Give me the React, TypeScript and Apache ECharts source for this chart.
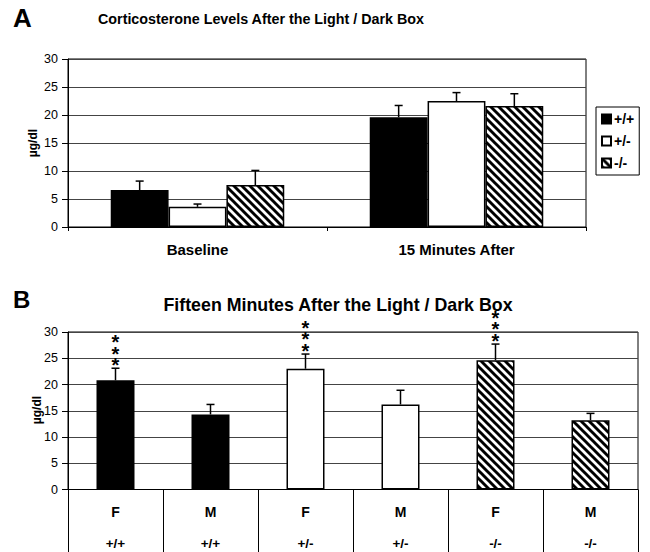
import React, { useEffect, useRef } from 'react';
import * as echarts from 'echarts';

// Panel A: corticosterone by genotype, baseline vs 15 minutes after the light/dark box
const groupsA = ['Baseline', '15 Minutes After'];
const genotypes = ['+/+', '+/-', '-/-'];
const meanWtA = [6.6, 19.6];
const semWtA = [1.6, 2.1];
const meanHetA = [3.6, 22.5];
const semHetA = [0.5, 1.5];
const meanKoA = [7.5, 21.6];
const semKoA = [2.6, 2.2];

// Panel B: fifteen minutes after, split by sex and genotype
const sexB = ['F', 'M', 'F', 'M', 'F', 'M'];
const genotypeB = ['+/+', '+/+', '+/-', '+/-', '-/-', '-/-'];
const meanB = [20.8, 14.3, 23.0, 16.2, 24.6, 13.2];
const semB = [2.3, 1.9, 2.8, 2.7, 3.1, 1.3];
const starsB = ['***', '', '***', '', '***', ''];

const yMin = 0;
const yMax = 30;
const yStep = 5;

const FONT = '"Liberation Sans", Arial, Helvetica, sans-serif';

function makeHatch(): HTMLCanvasElement {
  const size = 8;
  const c = document.createElement('canvas');
  c.width = size;
  c.height = size;
  const ctx = c.getContext('2d')!;
  ctx.fillStyle = '#fff';
  ctx.fillRect(0, 0, size, size);
  ctx.strokeStyle = '#000';
  ctx.lineWidth = 2.9;
  ctx.beginPath();
  for (let k = -1; k <= 1; k++) {
    ctx.moveTo(-2, -2 + k * size);
    ctx.lineTo(size + 2, size + 2 + k * size);
  }
  ctx.stroke();
  return c;
}

function buildOption(): any {
  const hatch = { image: makeHatch(), repeat: 'repeat' };
  const fills: Record<string, any> = { '+/+': '#000', '+/-': '#fff', '-/-': hatch };

  const meansA = [meanWtA, meanHetA, meanKoA];
  const semsA = [semWtA, semHetA, semKoA];
  const catGapA = 0.33;

  const errDataA: number[][] = [];
  meansA.forEach((m, g) =>
    m.forEach((v, c) => errDataA.push([c, g, v, v + semsA[g][c]]))
  );
  const errDataB = meanB.map((v, i) => [i, 0, v, v + semB[i]]);

  const yAxisCommon = {
    type: 'value',
    min: yMin,
    max: yMax,
    interval: yStep,
    axisLine: { show: true, lineStyle: { color: '#000', width: 1 } },
    axisTick: { show: true, length: 6, lineStyle: { color: '#000' } },
    axisLabel: { color: '#000', fontFamily: FONT, fontSize: 12.5, margin: 10 },
    splitLine: { show: true, lineStyle: { color: '#444', width: 1 } },
  };

  const errRender = (barWidthFn: (band: number) => number, groups: number, withStars: boolean) =>
    (params: any, api: any) => {
      const cat = api.value(0);
      const grp = api.value(1);
      const mean = api.value(2);
      const upper = api.value(3);
      const band = api.size([1, 0])[0];
      const bw = barWidthFn(band);
      const p0 = api.coord([cat, mean]);
      const p1 = api.coord([cat, upper]);
      const x = p0[0] + (grp - (groups - 1) / 2) * bw;
      const children: any[] = [
        { type: 'line', shape: { x1: x, y1: p0[1], x2: x, y2: p1[1] }, style: { stroke: '#000', lineWidth: 1.5 } },
        { type: 'line', shape: { x1: x - 4, y1: p1[1], x2: x + 4, y2: p1[1] }, style: { stroke: '#000', lineWidth: 1.5 } },
      ];
      if (withStars) {
        const s = starsB[params.dataIndex];
        if (s) {
          // significance marks stacked one above another over the error bar
          children.push({
            type: 'text',
            style: {
              text: s.split('').join('\n'),
              x: x,
              y: p1[1] + 3,
              align: 'center',
              verticalAlign: 'bottom',
              lineHeight: 11.8,
              font: `bold 20px ${FONT}`,
              fill: '#000',
            },
          });
        }
      }
      return { type: 'group', children };
    };

  const boldText = (text: string, x: number, y: number, size: number, align = 'center', rotation = 0) => ({
    type: 'text',
    x,
    y,
    rotation,
    style: { text, align, verticalAlign: 'middle', font: `bold ${size}px ${FONT}`, fill: '#000' },
  });

  return {
    animation: false,
    backgroundColor: '#fff',
    textStyle: { fontFamily: FONT },
    grid: [
      { left: 68, top: 59, width: 518, height: 168, show: true, borderColor: '#000', borderWidth: 1, backgroundColor: '#fff' },
      { left: 68, top: 332, width: 570, height: 157.5, show: true, borderColor: '#000', borderWidth: 1, backgroundColor: '#fff' },
    ],
    legend: {
      orient: 'vertical',
      left: 596,
      top: 107,
      data: genotypes,
      itemWidth: 9,
      itemHeight: 9,
      itemGap: 8,
      padding: [5, 5, 5, 5],
      borderColor: '#000',
      borderWidth: 1,
      icon: 'rect',
      textStyle: { fontFamily: FONT, fontWeight: 'bold', fontSize: 14, color: '#000', padding: [0, 0, 0, -2] },
    },
    xAxis: [
      {
        type: 'category',
        gridIndex: 0,
        data: groupsA,
        axisLine: { lineStyle: { color: '#000' } },
        axisTick: { show: true, length: 4, lineStyle: { color: '#000' } },
        axisLabel: { color: '#000', fontFamily: FONT, fontWeight: 'bold', fontSize: 15, margin: 15 },
      },
      {
        type: 'category',
        gridIndex: 1,
        data: sexB.map((s, i) => `${s} ${genotypeB[i]}`),
        axisLine: { lineStyle: { color: '#000' } },
        axisTick: { show: true, length: 80, lineStyle: { color: '#000' } },
        axisLabel: {
          margin: 7,
          formatter: (_v: string, i: number) => `{s|${sexB[i]}}\n{g|${genotypeB[i]}}`,
          rich: {
            s: { fontFamily: FONT, fontWeight: 'bold', fontSize: 14, color: '#000', lineHeight: 31 },
            g: { fontFamily: FONT, fontWeight: 'bold', fontSize: 13.5, color: '#000', lineHeight: 31 },
          },
        },
      },
    ],
    yAxis: [
      { ...yAxisCommon, gridIndex: 0 },
      { ...yAxisCommon, gridIndex: 1 },
    ],
    graphic: [
      boldText('A', 13, 18, 26, 'left'),
      boldText('Corticosterone Levels After the Light / Dark Box', 261, 18.5, 14.3),
      boldText('B', 13, 299, 24, 'left'),
      boldText('Fifteen Minutes After the Light / Dark Box', 338, 305, 17.8),
      boldText('µg/dl', 33, 143, 12, 'center', Math.PI / 2),
      boldText('µg/dl', 37, 410, 12, 'center', Math.PI / 2),
    ],
    series: [
      ...genotypes.map((g, gi) => ({
        name: g,
        type: 'bar',
        xAxisIndex: 0,
        yAxisIndex: 0,
        data: meansA[gi],
        barGap: '0%',
        barCategoryGap: `${catGapA * 100}%`,
        itemStyle: { color: fills[g], borderColor: '#000', borderWidth: 1.5 },
      })),
      {
        type: 'custom',
        xAxisIndex: 0,
        yAxisIndex: 0,
        data: errDataA,
        encode: { x: 0, y: 3 },
        renderItem: errRender((band) => (band * (1 - catGapA)) / 3, 3, false),
        z: 5,
      },
      {
        type: 'bar',
        xAxisIndex: 1,
        yAxisIndex: 1,
        barWidth: 38,
        data: meanB.map((v, i) => ({
          value: v,
          itemStyle: { color: fills[genotypeB[i]], borderColor: '#000', borderWidth: 1.5 },
        })),
      },
      {
        type: 'custom',
        xAxisIndex: 1,
        yAxisIndex: 1,
        data: errDataB,
        encode: { x: 0, y: 3 },
        renderItem: errRender(() => 0, 1, true),
        z: 5,
      },
    ],
  };
}

export default function App() {
  const ref = useRef<HTMLDivElement>(null);
  useEffect(() => {
    if (!ref.current) return;
    const chart = echarts.init(ref.current, undefined, { renderer: 'svg' });
    chart.setOption(buildOption());
    return () => chart.dispose();
  }, []);
  return (
    <div
      ref={ref}
      style={{ position: 'fixed', left: 0, top: 0, width: 650, height: 552, background: '#fff' }}
    />
  );
}
